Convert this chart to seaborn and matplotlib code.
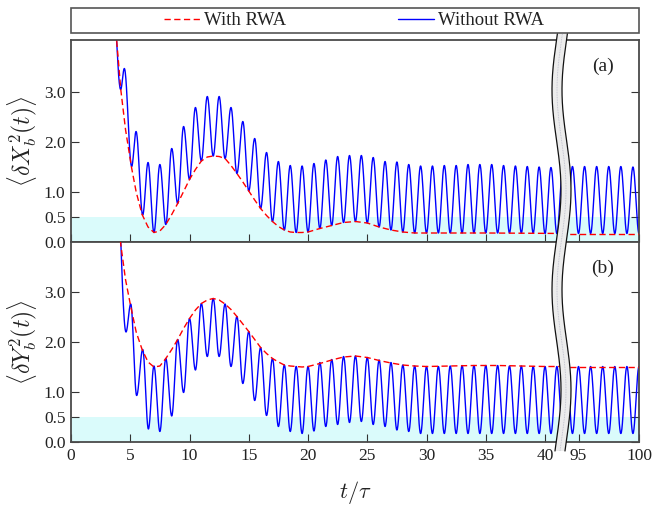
import numpy as np
import matplotlib
matplotlib.use("Agg")
import matplotlib.pyplot as plt
import seaborn as sns
from matplotlib.patches import Polygon, Rectangle

# ---------------------------------------------------------------- data
# (a) quadrature X, without RWA: successive extrema (time, value)
a_blue_t = [3.50, 4.19, 4.50, 5.12, 5.49, 6.05, 6.50,
            7.0, 7.5, 8.0, 8.5, 9.0, 9.5, 10.0, 10.5, 11.0, 11.5, 12.0, 12.5,
            13.0, 13.5, 14.0, 14.5, 15.0, 15.5, 16.0, 16.5, 17.0, 17.5, 18.0, 18.5,
            19.0, 19.5, 20.0, 20.5, 21.0, 21.5, 22.0, 22.5, 23.0, 23.5, 24.0, 24.5,
            25.0, 25.5, 26.0, 26.5, 27.0, 27.5, 28.0, 28.5, 29.0, 29.5, 30.0, 30.5,
            31.0, 31.5, 32.0, 32.5, 33.0, 33.5, 34.0, 34.5, 35.0, 35.5, 36.0, 36.5,
            37.0, 37.5, 38.0, 38.5, 39.0, 39.5, 40.0, 40.5, 41.0, 41.5, 42.0]
a_blue_v = [5.00, 3.05, 3.47, 1.51, 2.21, 0.54, 1.59,
            0.19, 1.55, 0.35, 1.87, 0.77, 2.31, 1.25, 2.69, 1.62, 2.91, 1.72, 2.91,
            1.67, 2.69, 1.37, 2.41, 1.02, 2.07, 0.67, 1.79, 0.41, 1.61, 0.24, 1.53,
            0.19, 1.52, 0.20, 1.57, 0.27, 1.64, 0.33, 1.71, 0.39, 1.73, 0.41, 1.73,
            0.38, 1.69, 0.30, 1.61, 0.24, 1.60, 0.20, 1.55, 0.18, 1.52, 0.18, 1.52,
            0.18, 1.53, 0.18, 1.53, 0.18, 1.55, 0.18, 1.55, 0.18, 1.55, 0.18, 1.53,
            0.18, 1.52, 0.18, 1.51, 0.18, 1.50, 0.17, 1.49, 0.17, 1.49, 0.17]
a_blue_late_t = [93.5, 94.0, 94.5, 95.0, 95.5, 96.0, 96.5, 97.0, 97.5, 98.0, 98.5, 99.0, 99.5, 100.0]
a_blue_late_v = [1.50, 0.17, 1.51, 0.17, 1.51, 0.17, 1.51, 0.17, 1.51, 0.17, 1.51, 0.17, 1.50, 0.17]

# (a) with RWA
a_rwa_t = [3.60, 3.85, 4.20, 4.60, 5.10, 5.50, 6.00, 6.50, 7.00, 7.50, 8.00, 8.50,
           9.00, 9.50, 10.0, 10.5, 11.0, 11.5, 12.0, 12.5, 13.0, 13.5, 14.0, 14.5,
           15.0, 15.5, 16.0, 16.5, 17.0, 17.5, 18.0, 18.5, 19.0, 19.5, 20.0, 21.0,
           22.0, 23.0, 24.0, 25.0, 26.0, 27.0, 28.0, 29.0, 30.0, 35.0, 42.0]
a_rwa_v = [4.80, 4.04, 3.05, 2.25, 1.50, 1.00, 0.55, 0.30, 0.19, 0.22, 0.35, 0.55,
           0.77, 1.01, 1.25, 1.45, 1.62, 1.70, 1.72, 1.71, 1.67, 1.53, 1.37, 1.20,
           1.02, 0.84, 0.67, 0.53, 0.41, 0.31, 0.24, 0.20, 0.19, 0.19, 0.20, 0.27,
           0.33, 0.39, 0.41, 0.38, 0.30, 0.24, 0.20, 0.18, 0.18, 0.18, 0.17]
a_rwa_late_t = [93.5, 100.0]
a_rwa_late_v = [0.17, 0.17]

# (b) quadrature Y, without RWA: successive extrema (time, value)
b_blue_t = [3.75, 4.64, 5.04, 5.54, 6.05, 6.53,
            7.0, 7.5, 8.0, 8.5, 9.0, 9.5, 10.0, 10.5, 11.0, 11.5, 12.0, 12.5,
            13.0, 13.5, 14.0, 14.5, 15.0, 15.5, 16.0, 16.5, 17.0, 17.5, 18.0, 18.5,
            19.0, 19.5, 20.0, 20.5, 21.0, 21.5, 22.0, 22.5, 23.0, 23.5, 24.0, 24.5,
            25.0, 25.5, 26.0, 26.5, 27.0, 27.5, 28.0, 28.5, 29.0, 29.5, 30.0, 30.5,
            31.0, 31.5, 32.0, 32.5, 33.0, 33.5, 34.0, 34.5, 35.0, 35.5, 36.0, 36.5,
            37.0, 37.5, 38.0, 38.5, 39.0, 39.5, 40.0, 40.5, 41.0, 41.5, 42.0]
b_blue_v = [5.90, 2.20, 2.76, 0.93, 1.85, 0.26,
            1.52, 0.21, 1.67, 0.52, 2.05, 0.99, 2.47, 1.44, 2.77, 1.71, 2.87, 1.71,
            2.76, 1.51, 2.51, 1.17, 2.21, 0.83, 1.89, 0.53, 1.67, 0.31, 1.54, 0.21,
            1.51, 0.17, 1.51, 0.22, 1.59, 0.31, 1.65, 0.35, 1.71, 0.39, 1.72, 0.41,
            1.69, 0.35, 1.64, 0.31, 1.59, 0.24, 1.54, 0.21, 1.52, 0.17, 1.51, 0.17,
            1.51, 0.17, 1.52, 0.17, 1.53, 0.17, 1.53, 0.17, 1.53, 0.17, 1.53, 0.17,
            1.52, 0.17, 1.52, 0.17, 1.51, 0.17, 1.51, 0.17, 1.51, 0.17, 1.51]
b_blue_late_t = [93.5, 94.0, 94.5, 95.0, 95.5, 96.0, 96.5, 97.0, 97.5, 98.0, 98.5, 99.0, 99.5, 100.0]
b_blue_late_v = [0.17, 1.51, 0.17, 1.51, 0.17, 1.51, 0.17, 1.51, 0.17, 1.51, 0.17, 1.51, 0.17, 1.51]

# (b) with RWA
b_rwa_t = [3.80, 4.20, 4.60, 5.00, 5.50, 6.00, 6.50, 7.00, 7.50, 8.00, 8.50, 9.00,
           9.50, 10.0, 10.5, 11.0, 11.5, 12.0, 12.5, 13.0, 13.5, 14.0, 14.5, 15.0,
           15.5, 16.0, 16.5, 17.0, 17.5, 18.0, 18.5, 19.0, 19.5, 20.0, 21.0, 22.0,
           23.0, 24.0, 25.0, 26.0, 27.0, 28.0, 29.0, 30.0, 32.0, 34.0, 36.0, 38.0,
           40.0, 42.0]
b_rwa_v = [5.00, 3.95, 3.25, 2.76, 2.20, 1.85, 1.60, 1.50, 1.52, 1.67, 1.85, 2.05,
           2.27, 2.47, 2.64, 2.77, 2.84, 2.87, 2.84, 2.76, 2.65, 2.51, 2.36, 2.21,
           2.05, 1.89, 1.77, 1.67, 1.60, 1.54, 1.52, 1.51, 1.50, 1.51, 1.57, 1.64,
           1.70, 1.72, 1.69, 1.63, 1.58, 1.54, 1.52, 1.51, 1.52, 1.53, 1.53, 1.52,
           1.51, 1.51]
b_rwa_late_t = [93.5, 100.0]
b_rwa_late_v = [1.51, 1.51]

y_ticks = [0.0, 0.5, 1.0, 2.0, 3.0]
y_ticklabels = ["0.0", "0.5", "1.0", "2.0", "3.0"]
x_ticks_early = [0, 5, 10, 15, 20, 25, 30, 35, 40]
x_ticks_late = [95, 100]
legend_labels = ["With RWA", "Without RWA"]
panel_tags = ["(a)", "(b)"]
y_labels = [r"$\langle \delta X_b^2(t) \rangle$", r"$\langle \delta Y_b^2(t) \rangle$"]

# ---------------------------------------------------------------- style
sns.set_theme(style="ticks")
plt.rcParams.update({
    "font.family": ["Liberation Serif", "DejaVu Serif"],
    "mathtext.fontset": "cm",
    "axes.edgecolor": "#4a4a4a",
    "axes.linewidth": 1.3,
    "xtick.color": "#333333",
    "ytick.color": "#333333",
    "xtick.labelcolor": "#222222",
    "ytick.labelcolor": "#222222",
})

BLUE = "#0000ff"
RED = "#ff0000"
CYAN = "#dafbfb"


def smooth_through_extrema(ts, vs, n=24):
    """Join successive extrema with half-cosine arcs (smooth oscillation)."""
    xs, ys = [], []
    for i in range(len(ts) - 1):
        s = np.linspace(0.0, 1.0, n, endpoint=False)
        xs.append(ts[i] + s * (ts[i + 1] - ts[i]))
        ys.append(vs[i] + (vs[i + 1] - vs[i]) * (1 - np.cos(np.pi * s)) / 2)
    xs.append([ts[-1]])
    ys.append([vs[-1]])
    return np.concatenate(xs), np.concatenate(ys)


W, H = 654, 508
fig = plt.figure(figsize=(W / 100, H / 100), dpi=100)


def px_axes(x0, y0, x1, y1):
    return fig.add_axes([x0 / W, 1 - y1 / H, (x1 - x0) / W, (y1 - y0) / H])


X_LEFT, X_JOIN, X_RIGHT = 71, 564, 639
rows = [
    dict(y0=40, y1=242, ymax=4.04,
         blue=(a_blue_t, a_blue_v), blue_late=(a_blue_late_t, a_blue_late_v),
         rwa=(a_rwa_t, a_rwa_v), rwa_late=(a_rwa_late_t, a_rwa_late_v)),
    dict(y0=242, y1=442, ymax=4.0,
         blue=(b_blue_t, b_blue_v), blue_late=(b_blue_late_t, b_blue_late_v),
         rwa=(b_rwa_t, b_rwa_v), rwa_late=(b_rwa_late_t, b_rwa_late_v)),
]

legend_handles = None
for k, r in enumerate(rows):
    axL = px_axes(X_LEFT, r["y0"], X_JOIN, r["y1"])
    axR = px_axes(X_JOIN, r["y0"], X_RIGHT, r["y1"])
    for ax, bkey, rkey, xlim in ((axL, "blue", "rwa", (0, 41.6)),
                                 (axR, "blue_late", "rwa_late", (93.8, 100))):
        ax.axhspan(0, 0.5, color=CYAN, lw=0, zorder=0)
        bx, by = smooth_through_extrema(*r[bkey])
        sns.lineplot(x=bx, y=by, ax=ax, color=BLUE, lw=1.0, sort=False,
                     estimator=None, legend=False, zorder=2)
        sns.lineplot(x=r[rkey][0], y=r[rkey][1], ax=ax, color=RED, lw=1.0,
                     sort=False, estimator=None, legend=False, zorder=3)
        red_line = ax.get_lines()[-1]
        red_line.set_dashes((4.5, 2.5))
        ax.set_xlim(*xlim)
        ax.set_ylim(0, r["ymax"])
        ax.set_xlabel("")
        ax.set_ylabel("")
        ax.tick_params(direction="in", length=6, width=0.8, labelsize=12.5, pad=4)
        if k == 0:
            ax.tick_params(axis="x", labelbottom=False)
        if ax is axL and legend_handles is None:
            legend_handles = [ax.get_lines()[-1], ax.get_lines()[-2]]

    axL.set_xticks(x_ticks_early)
    axL.set_yticks(y_ticks)
    axL.set_yticklabels(y_ticklabels)
    axL.spines["right"].set_visible(False)

    axR.set_xticks(x_ticks_late)
    axR.set_yticks(y_ticks)
    axR.spines["left"].set_visible(False)
    axR.tick_params(axis="y", left=False, right=True, labelleft=False)

    yc = (r["y0"] + r["y1"]) / 2
    fig.text(603 / W, 1 - (r["y0"] + 26) / H, panel_tags[k], ha="center",
             va="center", fontsize=14, color="#222222")
    fig.text(22 / W, 1 - yc / H, y_labels[k], rotation=90, ha="center",
             va="center", fontsize=17, color="#222222")

fig.text(355 / W, 1 - 493 / H, r"$t/\tau$", ha="center", va="center",
         fontsize=16, color="#222222")

# legend strip
fig.add_artist(Rectangle((X_LEFT / W, 1 - 33 / H), (X_RIGHT - X_LEFT) / W, 25 / H,
                         transform=fig.transFigure, facecolor="white",
                         edgecolor="#555555", lw=1.2))
fig.legend(legend_handles, legend_labels, loc="center",
           bbox_to_anchor=(354 / W, 1 - 20.5 / H), ncol=2, frameon=False,
           fontsize=13.5, handlelength=1.9, handletextpad=0.2, columnspacing=6.0,
           borderpad=0.0, labelcolor="#222222")

# axis-break band across both panels
ov = fig.add_axes([0, 0, 1, 1], zorder=10)
ov.set_xlim(0, W)
ov.set_ylim(H, 0)
ov.axis("off")
ov.patch.set_alpha(0)
yy = np.linspace(34, 451, 300)
xc = 561.5 - 4.5 * np.sin(2 * np.pi * (yy - 40) / 200.0)
half = 5.0
band = np.concatenate([np.column_stack([xc - half, yy]),
                       np.column_stack([xc[::-1] + half, yy[::-1]])])
ov.add_patch(Polygon(band, closed=True, facecolor="#ececec", edgecolor="none"))
ov.plot(xc - half, yy, color="#111111", lw=0.9)
ov.plot(xc + half, yy, color="#111111", lw=0.9)
ov.plot(xc, yy, color="#b9b9c9", lw=0.6, ls=(0, (1, 1)))

fig.savefig("out.png", dpi=100)
